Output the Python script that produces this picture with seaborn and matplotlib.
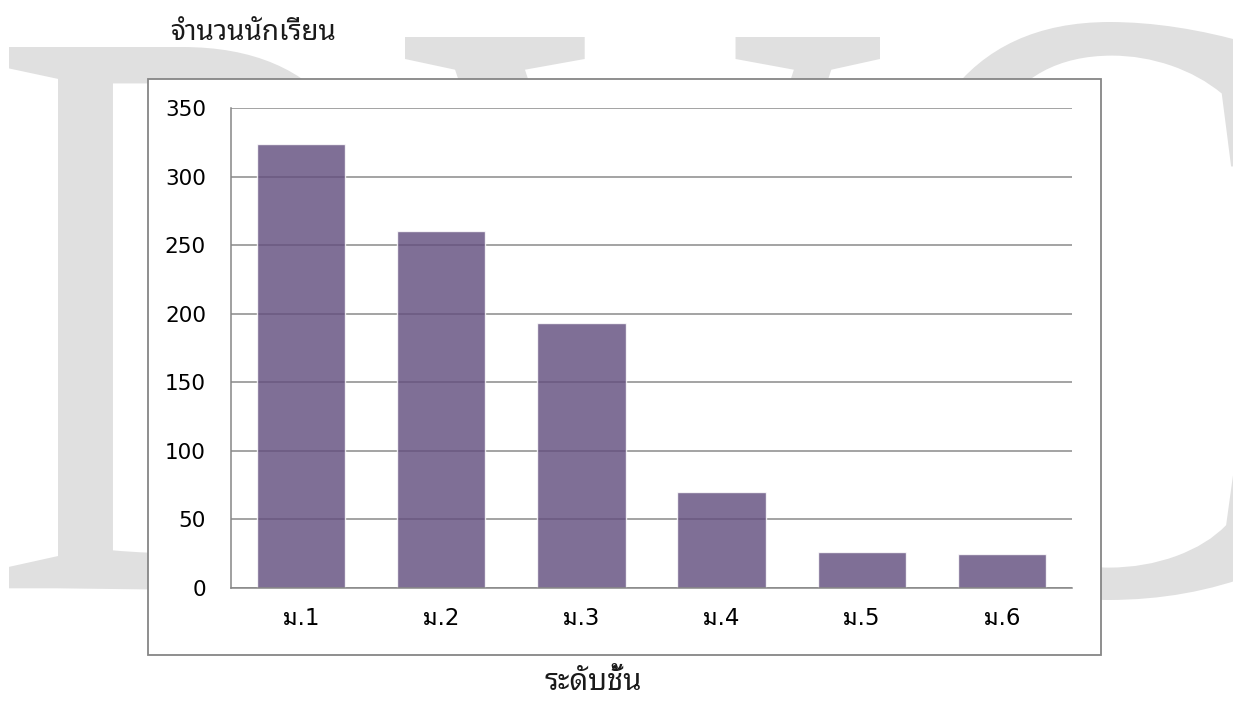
import matplotlib
matplotlib.use("Agg")
import matplotlib.pyplot as plt
import seaborn as sns
from matplotlib.textpath import TextPath
from matplotlib.font_manager import FontProperties
from matplotlib.patches import PathPatch, Rectangle
from matplotlib.transforms import Affine2D

# data
grades = ["ม.1", "ม.2", "ม.3", "ม.4", "ม.5", "ม.6"]
students = [324, 260, 193, 70, 26, 25]
y_ticks = [0, 50, 100, 150, 200, 250, 300, 350]

title_text = "จำนวนนักเรียน"
xlabel_text = "ระดับชั้น"

sns.set_style("white")
# DejaVu for the digits (Tahoma-like), Thai falls through to the looped Noto
plt.rcParams["font.family"] = ["DejaVu Sans", "Noto Sans Thai Looped"]

W, H = 1233, 702
fig = plt.figure(figsize=(W / 100, H / 100), dpi=100)

# background layer in pixel coords (watermark + chart frame)
bg = fig.add_axes([0, 0, 1, 1], zorder=0)
bg.set_xlim(0, W)
bg.set_ylim(H, 0)
bg.axis("off")

serif = FontProperties(family="Liberation Serif")
letters = [("D", 9, 47, 390, 590), ("V", 405, 37, 880, 605), ("C", 893, 22, 1258, 600)]
for ch, x0, y0, x1, y1 in letters:
    tp = TextPath((0, 0), ch, size=1, prop=serif)
    ext = tp.get_extents()
    tr = (Affine2D().translate(-ext.x0, -ext.y0)
          .scale((x1 - x0) / ext.width, -(y1 - y0) / ext.height)
          .translate(x0, y1))
    bg.add_patch(PathPatch(tr.transform_path(tp), facecolor="#e0e0e0", edgecolor="none", zorder=1))

bg.add_patch(Rectangle((148, 79), 1101 - 148, 655 - 79, facecolor="white",
                       edgecolor="#868686", linewidth=1.3, zorder=2))

# main chart
ax = fig.add_axes([231 / W, 1 - 588 / H, (1072 - 231) / W, (588 - 108) / H], zorder=1)
sns.barplot(x=grades, y=students, color="#634f7f", saturation=1, alpha=0.82,
            width=0.63, ax=ax)
ax.set_axisbelow(True)
ax.set_facecolor("none")
ax.set_xlim(-0.5, len(grades) - 0.5)
ax.set_ylim(0, 350)
ax.set_yticks(y_ticks)
ax.yaxis.grid(True, color="#8a8a8a", linewidth=1.1)
ax.xaxis.grid(False)

for s in ["top", "right"]:
    ax.spines[s].set_visible(False)
for s in ["left", "bottom"]:
    ax.spines[s].set_color("#868686")
    ax.spines[s].set_linewidth(1.1)

ax.set_xticks(range(len(grades)))
ax.set_xticklabels(grades)
ax.set_xticks([i - 0.5 for i in range(len(grades) + 1)], minor=True)
ax.tick_params(axis="x", which="major", length=0, pad=14, labelsize=16.5, colors="black")
ax.tick_params(axis="x", which="minor", length=6, width=1.1, color="#868686", direction="out")
ax.tick_params(axis="y", length=6, width=1.1, color="#868686", direction="out",
               pad=12, labelsize=15.5, labelcolor="black")
ax.set_xlabel("")
ax.set_ylabel("")

thai = ["Noto Sans Thai Looped", "DejaVu Sans"]
fig.text(170 / W, 1 - 33 / H, title_text, ha="left", va="center", fontsize=20,
         family=thai, fontweight="light", color="#1a1a1a")
fig.text(593 / W, 1 - 682 / H, xlabel_text, ha="center", va="center", fontsize=21,
         family=thai, fontweight="light", color="#1a1a1a")

fig.savefig("out.png", dpi=100)
